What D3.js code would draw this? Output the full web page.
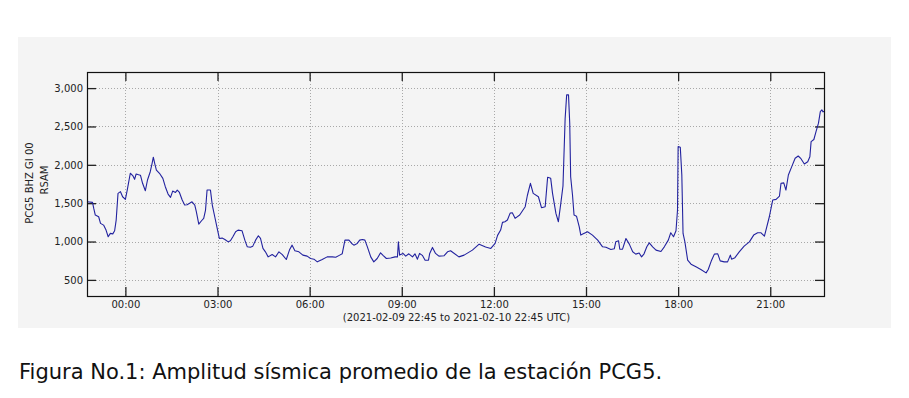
<!DOCTYPE html>
<html>
<head>
<meta charset="utf-8">
<script src="https://cdn.jsdelivr.net/npm/d3@7"></script>
<style>
  html, body { margin: 0; padding: 0; background: #ffffff; }
  svg { display: block; }
</style>
</head>
<body>
<svg id="chart" width="909" height="398"></svg>
<script>
// ---- data (hours relative to 2021-02-10 00:00 UTC, RSAM value) ----
const startLabel = "2021-02-09 22:45";
const endLabel = "2021-02-10 22:45";
const hours = [
  -1.25,-1.07,-1.03,-0.98,-0.87,-0.81,-0.71,-0.63,-0.56,-0.49,-0.41,-0.35,-0.30,-0.24,-0.16,-0.09,
  0.00,0.06,0.16,0.24,0.30,0.35,0.43,0.49,0.56,0.65,0.72,0.81,0.87,0.91,0.96,1.01,1.11,1.22,1.30,1.39,
  1.47,1.54,1.63,1.69,1.76,1.85,1.93,2.01,2.09,2.17,2.26,2.31,2.39,2.48,2.55,2.61,2.66,2.77,2.83,2.91,
  2.99,3.06,3.15,3.24,3.35,3.42,3.50,3.59,3.67,3.80,3.89,3.97,4.07,4.15,4.24,4.33,4.40,4.48,4.56,4.65,
  4.78,4.89,5.00,5.11,5.24,5.35,5.43,5.52,5.65,5.78,5.92,6.03,6.14,6.25,6.41,6.57,6.74,6.85,6.98,7.06,
  7.15,7.28,7.37,7.44,7.55,7.63,7.72,7.80,7.88,7.99,8.09,8.20,8.31,8.39,8.50,8.64,8.78,8.86,8.89,8.93,
  9.04,9.13,9.23,9.35,9.43,9.51,9.58,9.67,9.76,9.87,9.91,10.00,10.10,10.21,10.38,10.49,10.59,10.86,11.03,
  11.30,11.52,11.73,11.90,12.04,12.12,12.22,12.28,12.36,12.44,12.53,12.60,12.69,12.84,13.02,13.09,13.19,
  13.28,13.45,13.55,13.67,13.75,13.85,13.91,14.02,14.10,14.18,14.25,14.32,14.37,14.43,14.47,14.50,14.56,
  14.61,14.69,14.78,14.83,14.91,15.05,15.21,15.38,15.54,15.65,15.81,15.92,15.97,16.06,16.10,16.19,16.30,
  16.41,16.52,16.62,16.73,16.81,16.89,16.98,17.06,17.17,17.28,17.44,17.55,17.68,17.76,17.85,17.93,17.98,
  18.00,18.07,18.12,18.16,18.22,18.31,18.42,18.58,18.74,18.91,18.98,19.09,19.18,19.29,19.37,19.50,19.61,
  19.70,19.74,19.85,19.99,20.15,20.32,20.46,20.59,20.70,20.81,20.86,20.97,21.08,21.19,21.30,21.35,21.44,
  21.51,21.59,21.70,21.81,21.91,22.00,22.11,22.22,22.29,22.33,22.42,22.49,22.57,22.63,22.68,22.72,22.75
];
const rsam = [
  1518,1510,1432,1345,1323,1237,1214,1149,1062,1106,1100,1140,1280,1628,1650,1584,
  1550,1671,1890,1860,1811,1880,1870,1865,1759,1662,1802,1910,2020,2099,2010,1932,1890,1824,1715,1619,
  1576,1658,1640,1671,1640,1541,1476,1480,1498,1518,1476,1389,1227,1271,1302,1410,1671,1671,1476,1323,
  1171,1040,1045,1027,996,1010,1062,1127,1149,1140,1018,931,925,940,1018,1075,1040,910,866,800,
  830,800,866,830,766,897,953,880,866,823,810,779,770,735,766,800,800,795,823,840,
  1018,1018,975,953,975,1018,1027,1018,931,800,735,779,853,820,779,785,800,800,996,823,
  845,810,840,800,840,770,845,820,757,757,845,923,845,810,815,866,880,800,823,
  888,966,930,910,975,1080,1150,1250,1258,1280,1370,1375,1302,1345,1454,1600,1759,
  1628,1584,1441,1454,1837,1824,1628,1367,1258,1500,1724,2600,2912,2912,2543,1845,1606,
  1345,1330,1192,1084,1100,1127,1084,1018,931,925,897,905,996,1010,900,900,1040,
  966,866,836,850,800,840,931,983,931,888,870,931,1018,1114,1062,1140,1410,
  2237,2228,1867,1106,996,757,705,670,636,591,636,757,836,840,748,735,735,
  823,770,790,866,940,996,1084,1114,1114,1071,1149,1323,1541,1550,1593,1759,1765,
  1671,1867,1976,2085,2115,2080,2011,2040,2106,2302,2330,2433,2543,2694,2716,2690,2700
];
const yTicks = [500, 1000, 1500, 2000, 2500, 3000];
const xTickHours = [0, 3, 6, 9, 12, 15, 18, 21];
const yLabelLines = ["PCG5 BHZ GI 00", "RSAM"];
const xLabel = "(" + startLabel + " to " + endLabel + " UTC)";
const caption = "Figura No.1: Amplitud sísmica promedio de la estación PCG5.";

// ---- layout ----
const svg = d3.select("#chart");
const W = 909, H = 398;
const panel = {x: 18, y: 37, w: 873, h: 291};
const plot = {left: 87, right: 824, top: 72, bottom: 296};
const font = "DejaVu Sans, sans-serif";

const midnight = Date.UTC(2021, 1, 10, 0, 0);
const toDate = h => new Date(midnight + h * 3600000);
const data = hours.map((h, i) => ({t: toDate(h), v: rsam[i]}));

const x = d3.scaleUtc()
  .domain([toDate(-1.25), toDate(22.75)])
  .range([plot.left, plot.right]);
const y = d3.scaleLinear()
  .domain([290, 3210])
  .range([plot.bottom, plot.top]);

svg.append("rect").attr("width", W).attr("height", H).attr("fill", "#ffffff");
svg.append("rect")
  .attr("x", panel.x).attr("y", panel.y).attr("width", panel.w).attr("height", panel.h)
  .attr("fill", "#f4f4f4");

// grid
const xTicks = xTickHours.map(toDate);
const grid = svg.append("g").attr("stroke", "#a8a8a8").attr("stroke-width", 1).attr("stroke-dasharray", "1,2");
grid.selectAll("line.v").data(xTicks).join("line").attr("class", "v")
  .attr("x1", d => Math.round(x(d)) + 0.5).attr("x2", d => Math.round(x(d)) + 0.5)
  .attr("y1", plot.top).attr("y2", plot.bottom);
grid.selectAll("line.h").data(yTicks).join("line").attr("class", "h")
  .attr("y1", d => Math.round(y(d)) + 0.5).attr("y2", d => Math.round(y(d)) + 0.5)
  .attr("x1", plot.left).attr("x2", plot.right);

// axes
const fmt = d3.utcFormat("%H:%M");
const tickLen = 9;
const axBottom = d3.axisBottom(x).tickValues(xTicks).tickFormat(fmt).tickSizeInner(-tickLen).tickSizeOuter(0).tickPadding(5);
const axTop = d3.axisTop(x).tickValues(xTicks).tickFormat("").tickSizeInner(-tickLen).tickSizeOuter(0);
const axLeft = d3.axisLeft(y).tickValues(yTicks).tickFormat(d3.format(",")).tickSizeInner(-tickLen).tickSizeOuter(0).tickPadding(4);
const axRight = d3.axisRight(y).tickValues(yTicks).tickFormat("").tickSizeInner(-tickLen).tickSizeOuter(0);

function styleAxis(g) {
  g.select(".domain").remove();
  g.selectAll(".tick line").attr("stroke", "#222").attr("stroke-width", 1.3);
  g.selectAll(".tick text").attr("fill", "#222").attr("font-family", font).attr("font-size", 10);
}
svg.append("g").attr("transform", `translate(0,${plot.bottom})`).call(axBottom).call(styleAxis);
svg.append("g").attr("transform", `translate(0,${plot.top})`).call(axTop).call(styleAxis);
svg.append("g").attr("transform", `translate(${plot.left},0)`).call(axLeft).call(styleAxis);
svg.append("g").attr("transform", `translate(${plot.right},0)`).call(axRight).call(styleAxis);

// line
const line = d3.line().x(d => x(d.t)).y(d => y(d.v));
svg.append("path").datum(data)
  .attr("d", line)
  .attr("fill", "none")
  .attr("stroke", "#22229f")
  .attr("stroke-width", 1.1)
  .attr("stroke-linejoin", "round");

// frame
svg.append("rect")
  .attr("x", plot.left + 0.5).attr("y", plot.top + 0.5)
  .attr("width", plot.right - plot.left).attr("height", plot.bottom - plot.top)
  .attr("fill", "none").attr("stroke", "#111").attr("stroke-width", 1.2);

// labels
const yc = (plot.top + plot.bottom) / 2 - 1;
svg.append("text")
  .attr("transform", `translate(33,${yc}) rotate(-90)`)
  .attr("text-anchor", "middle").attr("font-family", font).attr("font-size", 10).attr("fill", "#222")
  .text(yLabelLines[0]);
svg.append("text")
  .attr("transform", `translate(48,${yc - 3}) rotate(-90)`)
  .attr("text-anchor", "middle").attr("font-family", font).attr("font-size", 10).attr("fill", "#222")
  .text(yLabelLines[1]);
svg.append("text")
  .attr("x", (plot.left + plot.right) / 2 + 1).attr("y", 321)
  .attr("text-anchor", "middle").attr("font-family", font).attr("font-size", 10).attr("fill", "#222")
  .text(xLabel);

svg.append("text")
  .attr("x", 19).attr("y", 379)
  .attr("font-family", font).attr("font-size", 21).attr("fill", "#111")
  .text(caption);
</script>
</body>
</html>
